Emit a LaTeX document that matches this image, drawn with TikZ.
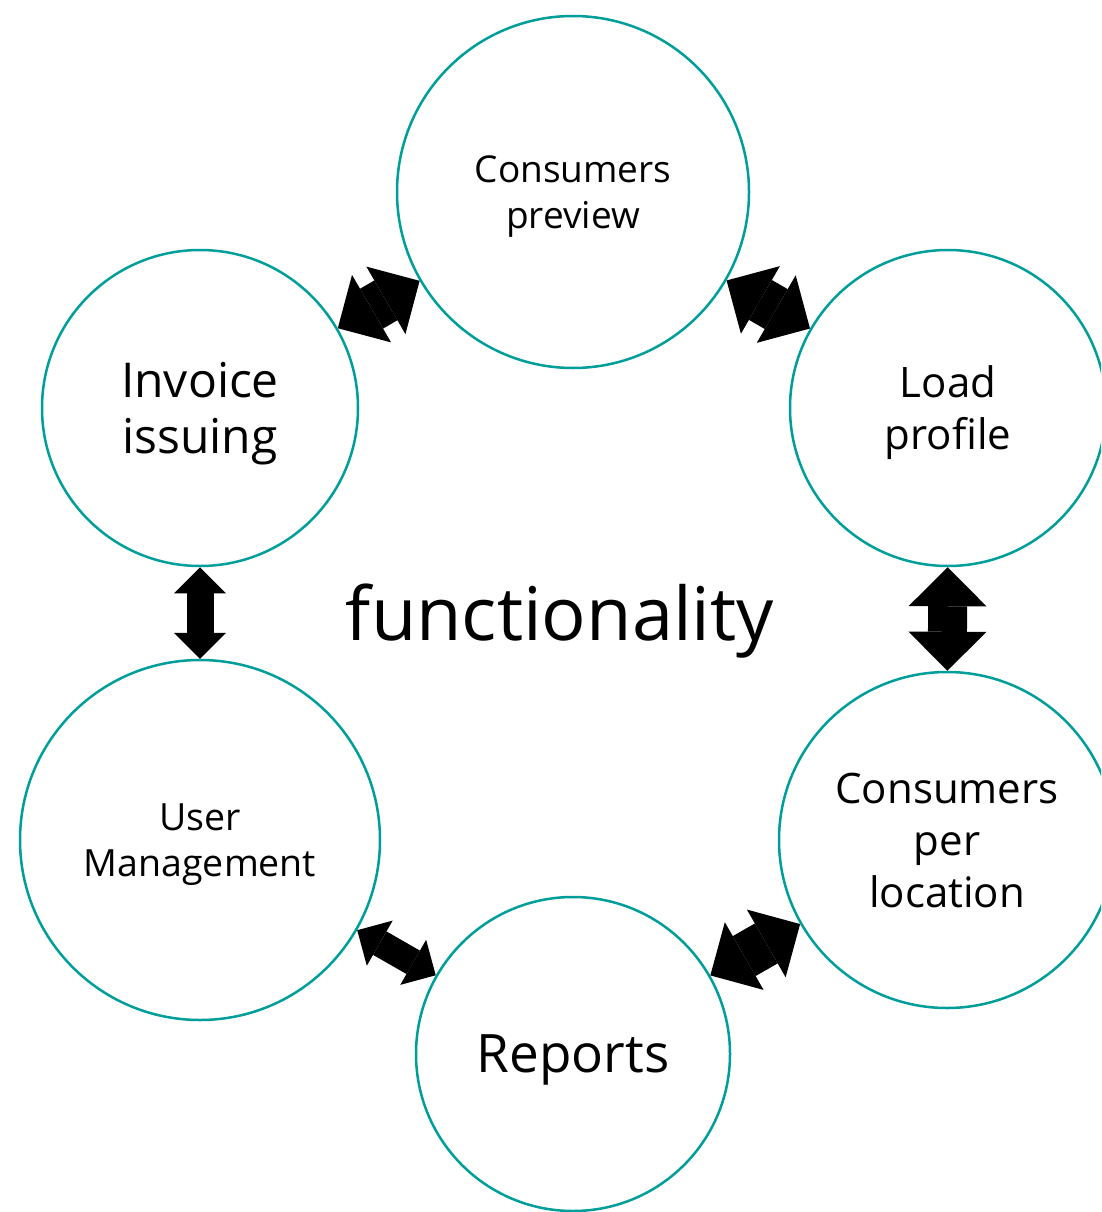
\documentclass[tikz,border=0pt]{standalone}
\usepackage{fontspec}
\setmainfont{Open Sans}
\usetikzlibrary{arrows.meta}
\definecolor{ringcol}{RGB}{0,158,155}
\begin{document}
\begin{tikzpicture}[x=1pt,y=-1pt,
  ring/.style={circle, draw=ringcol, line width=2.5pt, inner sep=0pt, align=center, text=black},
  bigarrow/.style={line width=39pt, preaction={draw, -, shorten <=28pt, shorten >=28pt},
    {Triangle[width=78pt,length=39pt,line width=0pt]}-{Triangle[width=78pt,length=39pt,line width=0pt]}},
  diagarrow/.style={line width=46pt, preaction={draw, -, shorten <=28pt, shorten >=28pt},
    {Triangle[width=78pt,length=39pt,line width=0pt]}-{Triangle[width=78pt,length=39pt,line width=0pt]}},
  smallarrow/.style={line width=27pt, preaction={draw, -, shorten <=18pt, shorten >=18pt},
    {Triangle[width=52pt,length=26pt,line width=0pt]}-{Triangle[width=52pt,length=26pt,line width=0pt]}}]
\useasboundingbox (0,0) rectangle (1101,1212);
\clip (0,0) rectangle (1101,1212);
\fill[white] (0,0) rectangle (1101,1212);
\node[ring, minimum size=352pt, text depth=0pt, font=\fontsize{37}{46}\selectfont] (cp) at (573,192) {Consumers\\preview};
\node[ring, minimum size=316pt, text depth=0pt, font=\fontsize{42}{52}\selectfont] (lp) at (948,408) {Load\\profile};
\node[ring, minimum size=316pt, text depth=0pt, font=\fontsize{48}{56}\selectfont] (ii) at (200,408) {Invoice\\issuing};
\node[ring, minimum size=360pt, text depth=0pt, font=\fontsize{37.5}{46}\selectfont] (um) at (200,840) {User\\Management};
\node[ring, minimum size=314pt, text depth=0pt, font=\fontsize{53}{60}\selectfont] (rp) at (573,1054) {Reports};
\node[ring, minimum size=336pt, font=\fontsize{42}{52}\selectfont] (cl) at (947,840) {Consumers\\per\\location};
\node[anchor=base, inner sep=0pt, font=\fontsize{74}{80}\selectfont] (fn) at (560,640) {functionality};
\draw[diagarrow] (ii) -- (cp);
\draw[diagarrow] (cp) -- (lp);
\draw[smallarrow] (ii) -- (um);
\draw[bigarrow] (lp) -- (cl);
\draw[smallarrow] (um) -- (rp);
\draw[diagarrow] (rp) -- (cl);
\end{tikzpicture}
\end{document}
